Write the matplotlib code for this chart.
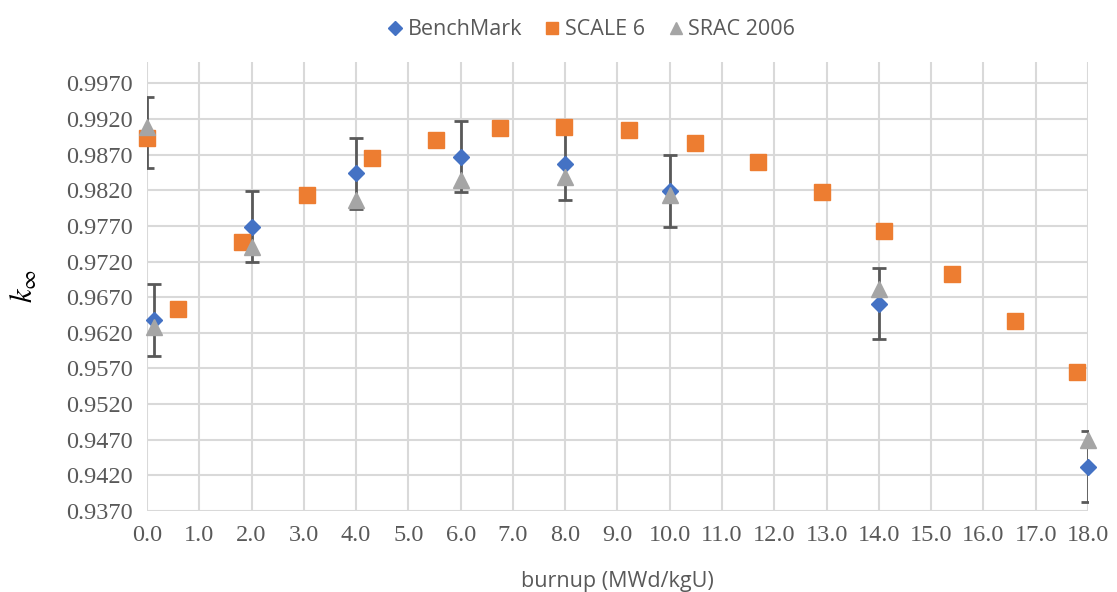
import matplotlib.pyplot as plt
from matplotlib.lines import Line2D
import numpy as np

# burnup points (MWd/kgU) and k-inf values
bench_burnup = [0.0, 0.14, 2.0, 4.0, 6.0, 8.0, 10.0, 14.0, 18.0]
bench_kinf = [0.9901, 0.9638, 0.9769, 0.9844, 0.9867, 0.9857, 0.9819, 0.9661, 0.9432]
bench_err = [0.005] * len(bench_burnup)

scale_burnup = [0.0, 0.59, 1.82, 3.07, 4.31, 5.53, 6.76, 7.98, 9.22, 10.48,
                11.69, 12.91, 14.09, 15.39, 16.6, 17.79]
scale_kinf = [0.9894, 0.9653, 0.9747, 0.9814, 0.9865, 0.9890, 0.9908, 0.9909,
              0.9904, 0.9887, 0.9859, 0.9818, 0.9763, 0.9703, 0.9636, 0.9565]

srac_burnup = [0.0, 0.14, 2.0, 4.0, 6.0, 8.0, 10.0, 14.0, 18.0]
srac_kinf = [0.9909, 0.9628, 0.9741, 0.9806, 0.9835, 0.9838, 0.9814, 0.9681, 0.9470]

y_ticks = np.arange(0.937, 0.9971, 0.005)
x_ticks = np.arange(0, 18.1, 1.0)

text_color = '#595959'
grid_color = '#D9D9D9'
blue, orange, gray = '#4472C4', '#ED7D31', '#A5A5A5'

plt.rcParams['mathtext.fontset'] = 'stix'

fig = plt.figure(figsize=(11.17, 5.92), dpi=100)
ax = fig.add_axes([0.1316, 0.1368, 0.8424, 0.7585])

# error bars of the benchmark (clipped at the plot edge like the original)
ax.errorbar(bench_burnup, bench_kinf, yerr=bench_err, fmt='none',
            ecolor='#595959', elinewidth=2, capsize=5, capthick=2, zorder=3)
ax.plot(bench_burnup, bench_kinf, 'D', color=blue, markersize=8,
        zorder=3, clip_on=False)
ax.plot(scale_burnup, scale_kinf, 's', color=orange, markersize=11,
        zorder=4, clip_on=False)
ax.plot(srac_burnup, srac_kinf, '^', color=gray, markersize=11,
        zorder=5, clip_on=False)

ax.set_xlim(0, 18)
ax.set_ylim(0.937, 1.0)
ax.set_xticks(x_ticks)
ax.set_xticklabels([f'{v:.1f}' for v in x_ticks])
ax.set_yticks(y_ticks)
ax.set_yticklabels([f'{v:.4f}' for v in y_ticks])

ax.grid(True, color=grid_color, linewidth=1.5)
ax.set_axisbelow(True)
for s in ax.spines.values():
    s.set_visible(False)
ax.tick_params(length=0, pad=10, labelcolor=text_color)
for lab in ax.get_xticklabels() + ax.get_yticklabels():
    lab.set_family('Liberation Serif')
    lab.set_fontsize(17.5)

ax.set_xlabel('burnup (MWd/kgU)', fontsize=15.5, color=text_color,
              family='Open Sans', labelpad=18)
ax.set_ylabel(r'$k_\infty$', fontsize=22, color='black', labelpad=20)

handles = [
    Line2D([], [], ls='none', marker='D', color=blue, markersize=7),
    Line2D([], [], ls='none', marker='s', color=orange, markersize=9),
    Line2D([], [], ls='none', marker='^', color=gray, markersize=9),
]
leg = fig.legend(handles, ['BenchMark', 'SCALE 6', 'SRAC 2006'],
                 loc='upper center', bbox_to_anchor=(0.527, 1.0), ncol=3,
                 frameon=False, prop={'family': 'Open Sans', 'size': 15.5},
                 handletextpad=0.0, columnspacing=0.8, handlelength=1.2)
for t in leg.get_texts():
    t.set_color(text_color)

fig.savefig('out.png', dpi=100)
